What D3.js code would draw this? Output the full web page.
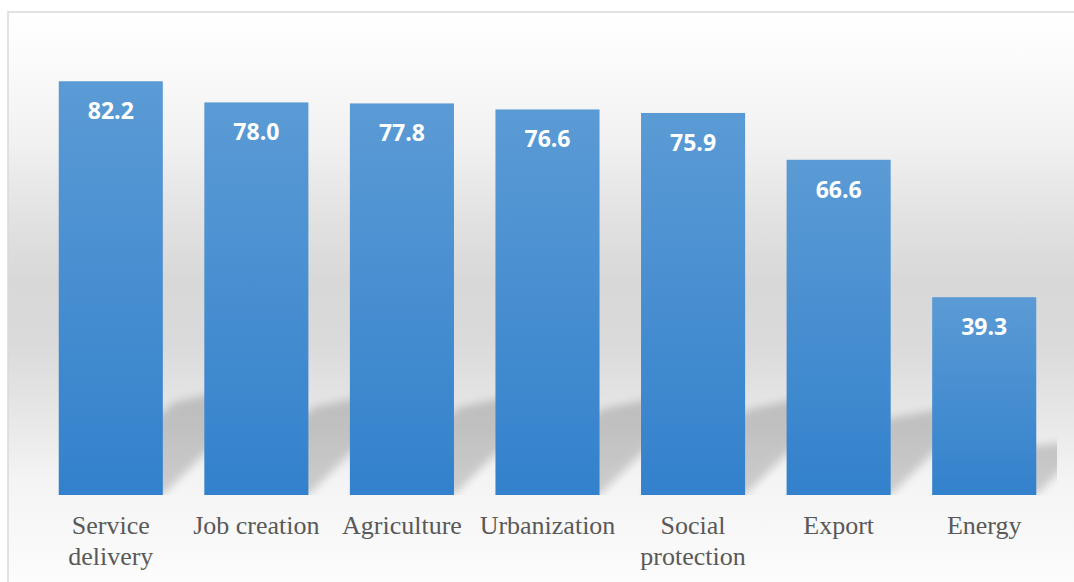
<!DOCTYPE html>
<html>
<head>
<meta charset="utf-8">
<script src="https://cdn.jsdelivr.net/npm/d3@7"></script>
<style>
  html, body { margin: 0; padding: 0; background: #fff; }
  svg { display: block; }
</style>
</head>
<body>
<div id="chart"></div>
<script>
var categories = ["Service delivery", "Job creation", "Agriculture", "Urbanization",
  "Social protection", "Export", "Energy"];
var values = [82.2, 78.0, 77.8, 76.6, 75.9, 66.6, 39.3];
var yDomain = [0, 90];

var width = 1074,
  height = 582;

var plot = { left: 38, right: 1057, top: 42, bottom: 495 };

var svg = d3
  .select("#chart")
  .append("svg")
  .attr("width", width)
  .attr("height", height);

var defs = svg.append("defs");

// chart area background: white -> grey -> white
var bg = defs
  .append("linearGradient")
  .attr("id", "bgGrad")
  .attr("gradientUnits", "userSpaceOnUse")
  .attr("x1", 0)
  .attr("y1", 12)
  .attr("x2", 0)
  .attr("y2", 582);
[
  [0, "#ffffff"],
  [0.1, "#fafafa"],
  [0.23, "#f1f1f1"],
  [0.35, "#e3e3e3"],
  [0.47, "#d8d8d8"],
  [0.58, "#dadada"],
  [0.7, "#e6e6e6"],
  [0.82, "#f4f4f4"],
  [1, "#fcfcfc"]
].forEach(function(s) {
  bg.append("stop").attr("offset", s[0]).attr("stop-color", s[1]);
});

var barGrad = defs
  .append("linearGradient")
  .attr("id", "barGrad")
  .attr("x1", 0)
  .attr("y1", 0)
  .attr("x2", 0)
  .attr("y2", 1);
barGrad.append("stop").attr("offset", 0).attr("stop-color", "#5b9bd5");
barGrad.append("stop").attr("offset", 1).attr("stop-color", "#3381cc");

defs
  .append("filter")
  .attr("id", "blur")
  .attr("x", "-20%")
  .attr("y", "-20%")
  .attr("width", "140%")
  .attr("height", "140%")
  .append("feGaussianBlur")
  .attr("stdDeviation", 4);

defs
  .append("clipPath")
  .attr("id", "plotClip")
  .append("rect")
  .attr("x", plot.left)
  .attr("y", plot.top)
  .attr("width", plot.right - plot.left)
  .attr("height", plot.bottom - plot.top);

svg
  .append("rect")
  .attr("x", 8)
  .attr("y", 12)
  .attr("width", width)
  .attr("height", height)
  .style("fill", "url(#bgGrad)")
  .style("stroke", "#d9d9d9")
  .style("stroke-width", 1.5);

var x = d3
  .scaleBand()
  .domain(categories)
  .range([plot.left, plot.right])
  .paddingInner(0.285)
  .paddingOuter(0.1425);

var y = d3
  .scaleLinear()
  .domain(yDomain)
  .range([plot.bottom, plot.top]);

var data = categories.map(function(c, i) {
  return { name: c, value: values[i] };
});

// perspective shadows behind the bars
svg
  .append("g")
  .attr("clip-path", "url(#plotClip)")
  .selectAll(".shadow")
  .data(data)
  .enter()
  .append("polygon")
  .attr("class", "shadow")
  .attr("points", function(d) {
    var x0 = x(d.name),
      x1 = x0 + x.bandwidth(),
      base = y(0),
      sh = (y(0) - y(d.value)) * 0.28;
    return [
      [x0, base],
      [x1, base],
      [x1 + sh, base - sh],
      [x0 + sh, base - sh * 0.8]
    ].join(" ");
  })
  .style("fill", "#000")
  .style("opacity", 0.17)
  .attr("filter", "url(#blur)");

svg
  .selectAll(".bar")
  .data(data)
  .enter()
  .append("rect")
  .attr("class", "bar")
  .attr("x", function(d) {
    return x(d.name);
  })
  .attr("y", function(d) {
    return y(d.value);
  })
  .attr("width", x.bandwidth())
  .attr("height", function(d) {
    return y(0) - y(d.value);
  })
  .style("fill", "url(#barGrad)");

svg
  .selectAll(".valuelabel")
  .data(data)
  .enter()
  .append("text")
  .attr("class", "valuelabel")
  .attr("x", function(d) {
    return x(d.name) + x.bandwidth() / 2;
  })
  .attr("y", function(d) {
    return y(d.value) + 38;
  })
  .attr("text-anchor", "middle")
  .style("font-family", "'Open Sans', sans-serif")
  .style("font-weight", 700)
  .style("font-size", "23px")
  .style("fill", "#ffffff")
  .text(function(d) {
    return d3.format(".1f")(d.value);
  });

// category labels, wrapped to the band step
var catLabels = svg
  .selectAll(".catlabel")
  .data(data)
  .enter()
  .append("text")
  .attr("class", "catlabel")
  .attr("text-anchor", "middle")
  .attr("x", function(d) {
    return x(d.name) + x.bandwidth() / 2;
  })
  .attr("y", 534)
  .style("font-family", "'Liberation Serif', 'Times New Roman', serif")
  .style("font-size", "26px")
  .style("fill", "#595959");

catLabels.each(function(d) {
  var text = d3.select(this);
  var words = d.name.split(" ");
  var cx = +text.attr("x");
  var line = [];
  var lineNo = 0;
  var tspan = text.append("tspan").attr("x", cx).attr("dy", 0);
  words.forEach(function(w) {
    line.push(w);
    tspan.text(line.join(" "));
    if (tspan.node().getComputedTextLength() > x.step() - 4 && line.length > 1) {
      line.pop();
      tspan.text(line.join(" "));
      line = [w];
      lineNo++;
      tspan = text
        .append("tspan")
        .attr("x", cx)
        .attr("dy", 31)
        .text(w);
    }
  });
});
</script>
</body>
</html>
